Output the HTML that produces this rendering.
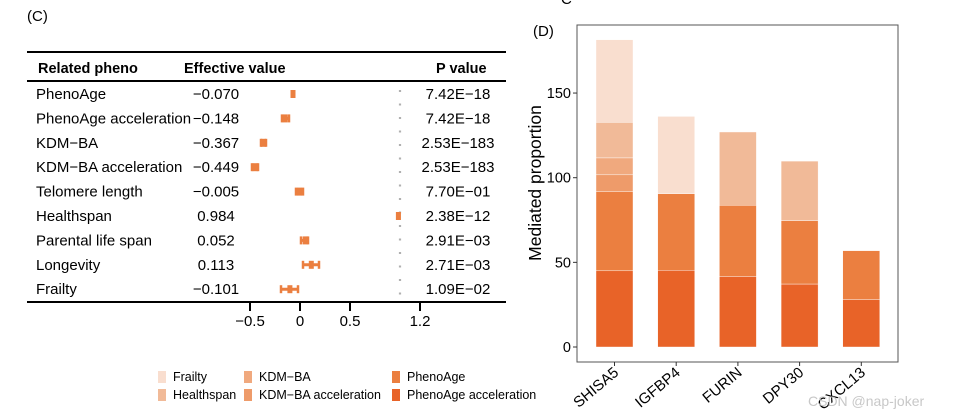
<!DOCTYPE html>
<html><head><meta charset="utf-8"><style>
html,body{margin:0;padding:0;background:#fff;}
svg{display:block;font-family:"Liberation Sans",Arial,sans-serif;}
</style></head><body>
<svg id="fig" width="960" height="417" viewBox="0 0 960 417">
<text x="27" y="21" font-size="15">(C)</text>
<text x="533" y="36" font-size="15">(D)</text>
<text x="561" y="4" font-size="15">C</text>
<g id="forest"></g>
<g id="bars"></g>
<text x="808" y="406" font-size="14" fill="#c8c8c8">CSDN @nap-joker</text>
</svg>
<script>
const NS="http://www.w3.org/2000/svg";
function mk(tag,attrs,parent,text){const e=document.createElementNS(NS,tag);for(const k in attrs)e.setAttribute(k,attrs[k]);if(text!==undefined)e.textContent=text;parent.appendChild(e);return e;}

// ---- Forest plot data ----
const phenos=["PhenoAge","PhenoAge acceleration","KDM\u2212BA","KDM\u2212BA acceleration","Telomere length","Healthspan","Parental life span","Longevity","Frailty"];
const effects=[-0.070,-0.148,-0.367,-0.449,-0.005,0.984,0.052,0.113,-0.101];
const effectLabels=["\u22120.070","\u22120.148","\u22120.367","\u22120.449","\u22120.005","0.984","0.052","0.113","\u22120.101"];
const ciLow=[-0.09,-0.19,-0.40,-0.49,-0.05,0.965,0.0,0.02,-0.20];
const ciHigh=[-0.05,-0.10,-0.33,-0.41,0.04,1.005,0.09,0.20,-0.01];
const pvals=["7.42E\u221218","7.42E\u221218","2.53E\u2212183","2.53E\u2212183","7.70E\u221201","2.38E\u221212","2.91E\u221203","2.71E\u221203","1.09E\u221202"];
const xTicks=[-0.5,0,0.5,1.2];
const xTickLabels=["\u22120.5","0","0.5","1.2"];

const F=document.getElementById('forest');
const fx=v=>300+v*100;
const fy=i=>94+i*24.4;
let l;
l=mk('line',{x1:27,x2:506,y1:52,y2:52,stroke:'#000','stroke-width':2},F);


l=mk('line',{x1:27,x2:506,y1:81,y2:81,stroke:'#000','stroke-width':2},F);


l=mk('line',{x1:27,x2:506,y1:302,y2:302,stroke:'#000','stroke-width':2},F);


let h;
h=mk('text',{x:38,y:73,'font-size':14.5,'font-weight':'bold'},F,'Related pheno');


h=mk('text',{x:184,y:73,'font-size':14.5,'font-weight':'bold'},F,'Effective value');


h=mk('text',{x:436,y:73,'font-size':14.5,'font-weight':'bold'},F,'P value');


l=mk('line',{x1:fx(1),x2:fx(1),y1:90,y2:300,stroke:'#b0b0b0','stroke-width':2.2,'stroke-dasharray':'2 11.5'},F);


phenos.forEach((p,i)=>{
  const y=fy(i);
  let t=mk('text',{x:36,y:y+5,'font-size':15},F,p);
  
  
  t=mk('text',{x:216,y:y+5,'font-size':15,'text-anchor':'middle'},F,effectLabels[i]);
  
  
  t=mk('text',{x:458,y:y+5,'font-size':15,'text-anchor':'middle'},F,pvals[i]);
  
  
  const g=mk('g',{},F);
  
  
  mk('line',{x1:fx(ciLow[i]),x2:fx(ciHigh[i]),y1:y,y2:y,stroke:'#EB7F40','stroke-width':3},g);
  mk('line',{x1:fx(ciLow[i])+1,x2:fx(ciLow[i])+1,y1:y-4,y2:y+4,stroke:'#EB7F40','stroke-width':2.5},g);
  mk('line',{x1:fx(ciHigh[i])-1,x2:fx(ciHigh[i])-1,y1:y-4,y2:y+4,stroke:'#EB7F40','stroke-width':2.5},g);
  const pt=mk('rect',{x:fx(effects[i])-2.5,y:y-4,width:5,height:8,fill:'#EB7F40'},g);
  
  
});
xTicks.forEach((v,i)=>{
  const t=mk('line',{x1:fx(v),x2:fx(v),y1:302,y2:311,stroke:'#000','stroke-width':2},F);
  
  
  const tl=mk('text',{x:fx(v),y:326,'font-size':15,'text-anchor':'middle'},F,xTickLabels[i]);
  
  
});

// ---- Stacked bar data ----
const genes=["SHISA5","IGFBP4","FURIN","DPY30","CXCL13"];
const seriesNames=["PhenoAge acceleration","PhenoAge","KDM\u2212BA acceleration","KDM\u2212BA","Healthspan","Frailty"];
const sPhenoAgeAcc=[45,45.3,41.7,37.2,28.1];
const sPhenoAge=[46.7,45.3,42,37.4,28.8];
const sKdmAcc=[10,0,0,0,0];
const sKdm=[10,0,0,0,0];
const sHealthspan=[21,0,43.3,35.2,0];
const sFrailty=[48.8,45.6,0,0,0];
const seriesVals=[sPhenoAgeAcc,sPhenoAge,sKdmAcc,sKdm,sHealthspan,sFrailty];
const colors=["#E86328","#EB7F40","#EE9B6A","#F0A97E","#F1BA98","#F9DECF"];
const yTicks=[0,50,100,150];

const B=document.getElementById('bars');
const by=v=>347-v*1.693;
const bx=i=>614.5+i*61.7;
const bw=37;
const frame=mk('rect',{x:577,y:25,width:321,height:337,fill:'none',stroke:'#555','stroke-width':1},B);


genes.forEach((g,i)=>{
  let base=0;
  seriesVals.forEach((s,k)=>{
    const v=s[i]; if(v<=0) return;
    const r=mk('rect',{x:bx(i)-bw/2,y:by(base+v),width:bw,height:by(base)-by(base+v),fill:colors[k],stroke:'#fff','stroke-width':0.4},B);
    
    
    base+=v;
  });
  const t=mk('line',{x1:bx(i),x2:bx(i),y1:362,y2:366,stroke:'#333'},B);
  
  
  const tl=mk('text',{x:bx(i)+5,y:374,'font-size':15,'text-anchor':'end',transform:`rotate(-40 ${bx(i)+5} 374)`},B,g);
  
  
});
yTicks.forEach(v=>{
  const t=mk('line',{x1:573,x2:577,y1:by(v),y2:by(v),stroke:'#333'},B);
  
  
  const tl=mk('text',{x:571,y:by(v)+5,'font-size':14.5,'text-anchor':'end'},B,String(v));
  
  
});
const yt=mk('text',{x:541,y:183,'font-size':17.5,'text-anchor':'middle',transform:'rotate(-90 541 183)'},B,'Mediated proportion');



// legend
const legOrder=[5,4,3,2,1,0];
const legPos=[[158,377],[158,395],[244,377],[244,395],[392,377],[392,395]];
legOrder.forEach((k,j)=>{
  const [x,y]=legPos[j];
  const g=mk('g',{},F);
  
  
  mk('rect',{x:x,y:y-6,width:8,height:12,fill:colors[k]},g);
  mk('text',{x:x+15,y:y+4,'font-size':12.5},g,seriesNames[k]);
});
</script>
</body></html>
